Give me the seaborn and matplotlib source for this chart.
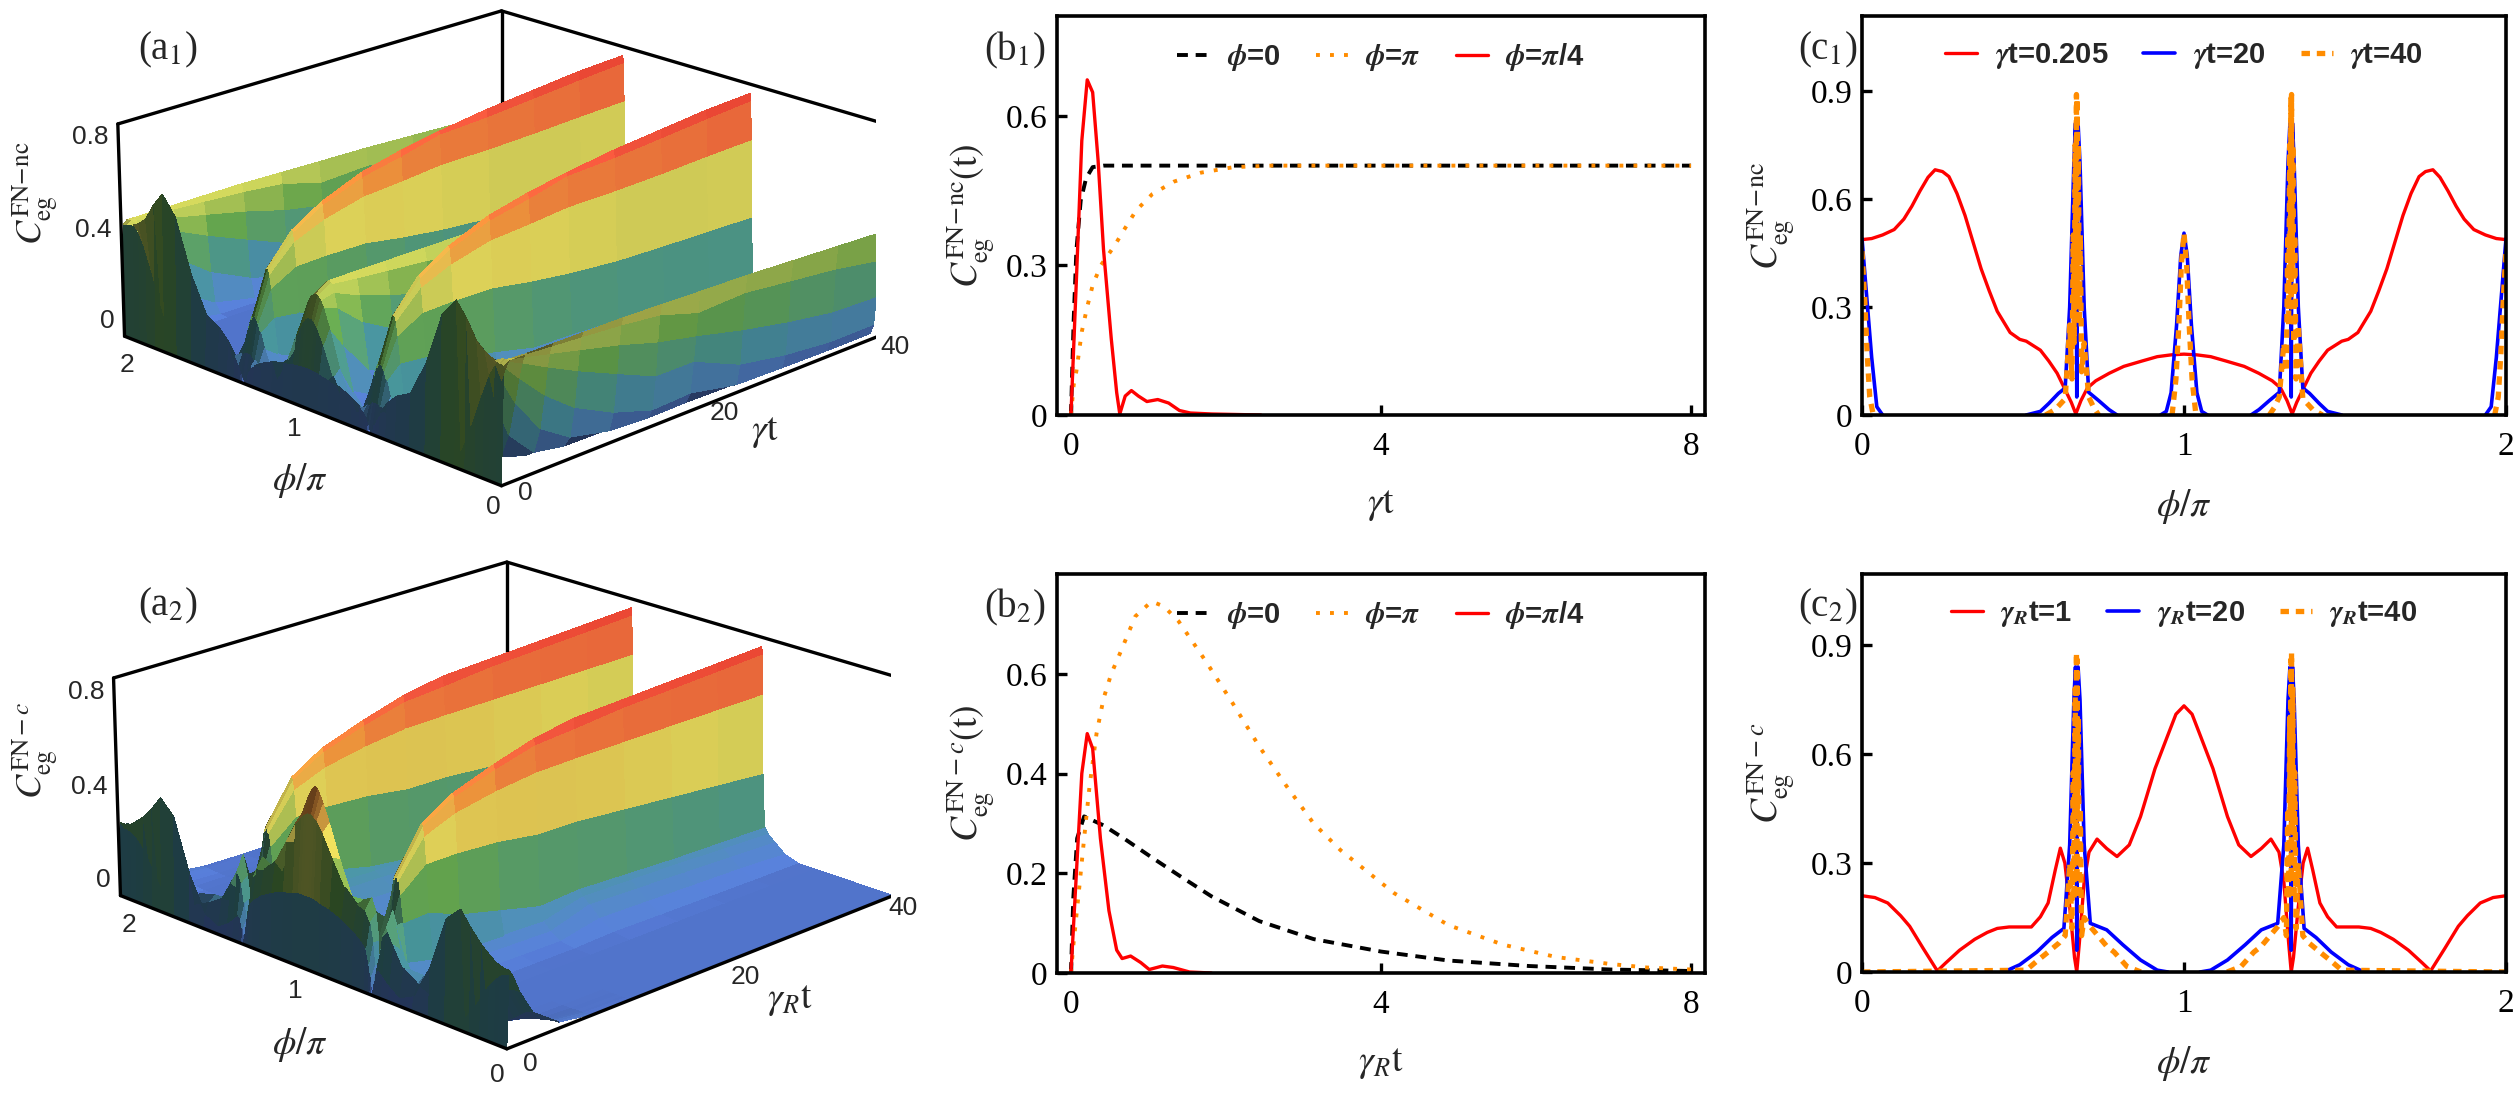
import numpy as np
import matplotlib
matplotlib.use("Agg")
import matplotlib.pyplot as plt
import seaborn as sns
from matplotlib.colors import LinearSegmentedColormap, Normalize
from mpl_toolkits.mplot3d import proj3d

# ---------- data ----------
# (b1) time traces vs gamma*t
B1_BLACK_T = [0, 0.035, 0.07, 0.126, 0.196, 0.28, 0.42, 8.0]
B1_BLACK_Y = [0, 0.19, 0.33, 0.43, 0.475, 0.497, 0.50, 0.50]
B1_ORANGE_T = [0, 0.035, 0.07, 0.14, 0.21, 0.28, 0.385, 0.56, 0.70, 0.84, 1.05, 1.33, 1.68, 2.1, 2.59, 8.0]
B1_ORANGE_Y = [0, 0.06, 0.088, 0.167, 0.217, 0.26, 0.30, 0.339, 0.375, 0.41, 0.443, 0.468, 0.486, 0.497, 0.50, 0.50]
B1_RED_T = [0, 0.07, 0.14, 0.21, 0.28, 0.35, 0.42, 0.52, 0.59, 0.63, 0.70, 0.78, 0.87, 0.98, 1.12, 1.26, 1.40, 1.54, 1.82, 2.45]
B1_RED_Y = [0, 0.27, 0.55, 0.672, 0.647, 0.511, 0.332, 0.153, 0.045, 0.002, 0.038, 0.049, 0.038, 0.027, 0.031, 0.024, 0.009, 0.004, 0.002, 0.0]

# (b2) time traces vs gamma_R*t
B2_BLACK_T = [0, 0.03, 0.08, 0.17, 0.42, 0.70, 1.04, 1.39, 1.81, 2.43, 3.13, 4.0, 4.87, 5.91, 6.96, 8.0]
B2_BLACK_Y = [0, 0.15, 0.27, 0.314, 0.296, 0.268, 0.232, 0.196, 0.154, 0.104, 0.068, 0.043, 0.025, 0.014, 0.007, 0.004]
B2_ORANGE_T = [0, 0.03, 0.1, 0.17, 0.24, 0.33, 0.42, 0.52, 0.63, 0.83, 1.04, 1.2, 1.39, 1.74, 2.09, 2.43, 2.78,
               3.13, 3.48, 4.17, 4.87, 5.57, 6.26, 6.96, 7.43, 8.0]
B2_ORANGE_Y = [0, 0.054, 0.16, 0.27, 0.375, 0.48, 0.55, 0.60, 0.64, 0.715, 0.745, 0.735, 0.705, 0.625, 0.54, 0.454,
               0.375, 0.30, 0.246, 0.16, 0.096, 0.057, 0.032, 0.018, 0.011, 0.007]
B2_RED_T = [0, 0.07, 0.14, 0.21, 0.28, 0.38, 0.49, 0.59, 0.66, 0.77, 0.9, 1.01, 1.18, 1.32, 1.53, 1.81, 2.5]
B2_RED_Y = [0, 0.2, 0.40, 0.48, 0.45, 0.27, 0.125, 0.046, 0.029, 0.034, 0.021, 0.007, 0.014, 0.011, 0.002, 0, 0]

# (c1) phi/pi profiles on [0, 1]; the curves are mirror symmetric about phi/pi = 1
C1_RED_PHI = [0.00, 0.03, 0.064, 0.10, 0.13, 0.155, 0.18, 0.205, 0.227, 0.25, 0.27, 0.295, 0.32, 0.345, 0.37, 0.395,
              0.42, 0.46, 0.49, 0.51, 0.554, 0.58, 0.606, 0.631, 0.65, 0.664, 0.68, 0.70, 0.726, 0.768, 0.813, 0.87,
              0.917, 0.96, 1.00]
C1_RED_VAL = [0.487, 0.49, 0.50, 0.515, 0.544, 0.58, 0.622, 0.66, 0.681, 0.676, 0.662, 0.615, 0.554, 0.48, 0.406, 0.345,
              0.288, 0.229, 0.21, 0.205, 0.18, 0.15, 0.116, 0.07, 0.035, 0.003, 0.04, 0.075, 0.095, 0.116, 0.135, 0.15,
              0.162, 0.167, 0.169]
C1_BLUE_PHI = [0.00, 0.012, 0.03, 0.046, 0.064, 0.51, 0.554, 0.58, 0.61, 0.631, 0.645, 0.658, 0.663, 0.666, 0.667,
               0.668, 0.671, 0.677, 0.69, 0.704, 0.735, 0.767, 0.792, 0.927, 0.945, 0.96, 0.977, 0.99, 1.00]
C1_BLUE_VAL = [0.49, 0.357, 0.16, 0.023, 0.0, 0.0, 0.01, 0.032, 0.06, 0.075, 0.30, 0.70, 0.81, 0.30, 0.05,
               0.30, 0.81, 0.70, 0.30, 0.063, 0.04, 0.015, 0.0, 0.0, 0.01, 0.062, 0.25, 0.443, 0.505]
C1_ORANGE_PHI = [0.00, 0.008, 0.016, 0.024, 0.035, 0.57, 0.60, 0.631, 0.645, 0.652, 0.656, 0.659, 0.662, 0.664,
                 0.666, 0.667, 0.668, 0.670, 0.672, 0.675, 0.678, 0.682, 0.69, 0.704, 0.72, 0.735, 0.963, 0.975,
                 0.984, 0.992, 1.00]
C1_ORANGE_VAL = [0.455, 0.33, 0.17, 0.05, 0.0, 0.0, 0.015, 0.045, 0.25, 0.10, 0.50, 0.20, 0.75, 0.40,
                 0.89, 0.30, 0.88, 0.45, 0.75, 0.25, 0.50, 0.12, 0.20, 0.05, 0.02, 0.0, 0.0, 0.10,
                 0.25, 0.42, 0.505]

# (c2) phi/pi profiles on [0, 1]
C2_RED_PHI = [0.00, 0.04, 0.08, 0.12, 0.148, 0.19, 0.234, 0.26, 0.303, 0.35, 0.389, 0.42, 0.457, 0.526, 0.554,
              0.578, 0.60, 0.616, 0.63, 0.645, 0.66, 0.667, 0.675, 0.69, 0.705, 0.73, 0.76, 0.792, 0.83, 0.865,
              0.91, 0.948, 0.975, 1.00]
C2_RED_VAL = [0.21, 0.205, 0.19, 0.155, 0.126, 0.065, 0.003, 0.025, 0.06, 0.09, 0.109, 0.12, 0.124, 0.124, 0.152,
              0.19, 0.28, 0.341, 0.30, 0.18, 0.04, 0.0, 0.08, 0.25, 0.33, 0.366, 0.34, 0.318, 0.35, 0.428,
              0.56, 0.648, 0.71, 0.733]
C2_BLUE_PHI = [0.00, 0.44, 0.49, 0.543, 0.59, 0.627, 0.645, 0.658, 0.663, 0.666, 0.667, 0.668, 0.671, 0.677,
               0.69, 0.709, 0.76, 0.81, 0.865, 0.917, 0.95, 1.00]
C2_BLUE_VAL = [0.0, 0.0, 0.02, 0.055, 0.095, 0.12, 0.35, 0.75, 0.84, 0.35, 0.06, 0.35, 0.84, 0.75,
               0.35, 0.134, 0.116, 0.075, 0.033, 0.005, 0.0, 0.0]
C2_ORANGE_PHI = [0.00, 0.51, 0.543, 0.578, 0.612, 0.631, 0.645, 0.652, 0.656, 0.659, 0.662, 0.664, 0.666, 0.667,
                 0.668, 0.670, 0.672, 0.675, 0.678, 0.682, 0.69, 0.709, 0.761, 0.783, 0.823, 0.866, 1.00]
C2_ORANGE_VAL = [0.0, 0.005, 0.03, 0.055, 0.08, 0.10, 0.30, 0.12, 0.55, 0.20, 0.78, 0.40, 0.88, 0.25,
                 0.86, 0.45, 0.70, 0.20, 0.45, 0.10, 0.15, 0.125, 0.07, 0.055, 0.015, 0.0, 0.0]

# (a1), (a2) surfaces: one row per time, one column per phi/pi node on [0, 1] (mirrored to [0, 2])
SURF_T = [0, 0.2, 0.6, 1.2, 2.5, 5, 8, 12, 16, 20, 25, 30, 35, 40]
SURF_PHI_HALF = [0.000, 0.008, 0.016, 0.025, 0.04, 0.06, 0.09, 0.13, 0.18, 0.23, 0.30, 0.38, 0.46, 0.53, 0.58,
                 0.615, 0.635, 0.648, 0.657, 0.663, 0.667, 0.671, 0.677, 0.686, 0.70, 0.72, 0.76, 0.82, 0.88,
                 0.93, 0.96, 0.975, 0.988, 1.000]
A1_Z_HALF = [
    [0.000, 0.000, 0.000, 0.000, 0.000, 0.000, 0.000, 0.000, 0.000, 0.000, 0.000, 0.000, 0.000, 0.000, 0.000, 0.000, 0.000, 0.000, 0.000, 0.000, 0.000, 0.000, 0.000, 0.000, 0.000, 0.000, 0.000, 0.000, 0.000, 0.000, 0.000, 0.000, 0.000, 0.000],
    [0.487, 0.490, 0.490, 0.492, 0.495, 0.500, 0.515, 0.544, 0.622, 0.680, 0.600, 0.380, 0.229, 0.195, 0.150, 0.100, 0.065, 0.040, 0.020, 0.005, 0.000, 0.015, 0.035, 0.055, 0.075, 0.090, 0.112, 0.137, 0.152, 0.163, 0.166, 0.168, 0.169, 0.169],
    [0.500, 0.500, 0.500, 0.500, 0.490, 0.470, 0.420, 0.320, 0.180, 0.060, 0.010, 0.000, 0.010, 0.040, 0.070, 0.100, 0.110, 0.120, 0.120, 0.120, 0.120, 0.120, 0.120, 0.110, 0.100, 0.080, 0.050, 0.060, 0.160, 0.280, 0.340, 0.360, 0.370, 0.370],
    [0.500, 0.498, 0.492, 0.479, 0.448, 0.392, 0.289, 0.160, 0.070, 0.034, 0.020, 0.005, 0.000, 0.004, 0.047, 0.145, 0.210, 0.248, 0.264, 0.270, 0.270, 0.270, 0.264, 0.248, 0.210, 0.148, 0.049, 0.062, 0.189, 0.340, 0.417, 0.443, 0.456, 0.460],
    [0.500, 0.495, 0.480, 0.453, 0.387, 0.282, 0.138, 0.034, 0.003, 0.000, 0.000, 0.000, 0.000, 0.000, 0.009, 0.110, 0.264, 0.373, 0.428, 0.446, 0.450, 0.446, 0.428, 0.373, 0.255, 0.105, 0.005, 0.006, 0.068, 0.253, 0.400, 0.458, 0.490, 0.500],
    [0.500, 0.488, 0.455, 0.398, 0.279, 0.134, 0.026, 0.000, 0.000, 0.000, 0.000, 0.000, 0.000, 0.005, 0.030, 0.064, 0.252, 0.433, 0.535, 0.572, 0.580, 0.572, 0.535, 0.433, 0.239, 0.060, 0.030, 0.005, 0.006, 0.108, 0.303, 0.410, 0.478, 0.500],
    [0.500, 0.480, 0.425, 0.336, 0.180, 0.050, 0.003, 0.000, 0.000, 0.000, 0.000, 0.000, 0.000, 0.005, 0.025, 0.070, 0.205, 0.437, 0.589, 0.648, 0.660, 0.648, 0.589, 0.437, 0.190, 0.068, 0.025, 0.003, 0.000, 0.046, 0.229, 0.368, 0.466, 0.500],
    [0.500, 0.468, 0.384, 0.262, 0.096, 0.012, 0.000, 0.000, 0.000, 0.000, 0.000, 0.000, 0.000, 0.005, 0.025, 0.070, 0.166, 0.433, 0.632, 0.713, 0.730, 0.713, 0.632, 0.433, 0.151, 0.065, 0.025, 0.002, 0.000, 0.013, 0.153, 0.315, 0.450, 0.500],
    [0.495, 0.450, 0.335, 0.190, 0.042, 0.002, 0.000, 0.000, 0.000, 0.000, 0.000, 0.000, 0.000, 0.006, 0.030, 0.060, 0.125, 0.403, 0.644, 0.748, 0.770, 0.748, 0.644, 0.403, 0.110, 0.055, 0.025, 0.003, 0.000, 0.003, 0.096, 0.262, 0.431, 0.500],
    [0.490, 0.400, 0.300, 0.190, 0.050, 0.004, 0.000, 0.000, 0.000, 0.000, 0.000, 0.000, 0.000, 0.004, 0.032, 0.062, 0.120, 0.380, 0.660, 0.790, 0.800, 0.790, 0.660, 0.380, 0.100, 0.050, 0.020, 0.000, 0.000, 0.000, 0.062, 0.220, 0.420, 0.505],
    [0.485, 0.410, 0.250, 0.100, 0.008, 0.000, 0.000, 0.000, 0.000, 0.000, 0.000, 0.000, 0.000, 0.003, 0.025, 0.050, 0.110, 0.360, 0.660, 0.800, 0.830, 0.800, 0.660, 0.360, 0.095, 0.045, 0.015, 0.000, 0.000, 0.000, 0.037, 0.180, 0.395, 0.505],
    [0.475, 0.387, 0.209, 0.064, 0.003, 0.000, 0.000, 0.000, 0.000, 0.000, 0.000, 0.000, 0.000, 0.002, 0.020, 0.045, 0.100, 0.352, 0.665, 0.817, 0.850, 0.817, 0.665, 0.352, 0.090, 0.040, 0.012, 0.000, 0.000, 0.000, 0.022, 0.148, 0.377, 0.505],
    [0.465, 0.365, 0.177, 0.044, 0.000, 0.000, 0.000, 0.000, 0.000, 0.000, 0.000, 0.000, 0.000, 0.002, 0.015, 0.040, 0.100, 0.346, 0.674, 0.835, 0.870, 0.835, 0.674, 0.346, 0.085, 0.035, 0.010, 0.000, 0.000, 0.000, 0.013, 0.120, 0.360, 0.505],
    [0.455, 0.330, 0.170, 0.045, 0.000, 0.000, 0.000, 0.000, 0.000, 0.000, 0.000, 0.000, 0.000, 0.000, 0.008, 0.030, 0.090, 0.340, 0.680, 0.850, 0.880, 0.850, 0.680, 0.340, 0.080, 0.025, 0.000, 0.000, 0.000, 0.000, 0.000, 0.100, 0.340, 0.505],
]
A2_Z_HALF = [
    [0.000, 0.000, 0.000, 0.000, 0.000, 0.000, 0.000, 0.000, 0.000, 0.000, 0.000, 0.000, 0.000, 0.000, 0.000, 0.000, 0.000, 0.000, 0.000, 0.000, 0.000, 0.000, 0.000, 0.000, 0.000, 0.000, 0.000, 0.000, 0.000, 0.000, 0.000, 0.000, 0.000, 0.000],
    [0.310, 0.310, 0.310, 0.310, 0.315, 0.320, 0.340, 0.370, 0.420, 0.480, 0.420, 0.200, 0.060, 0.030, 0.060, 0.090, 0.110, 0.100, 0.060, 0.020, 0.000, 0.030, 0.070, 0.120, 0.180, 0.200, 0.230, 0.260, 0.280, 0.290, 0.300, 0.300, 0.300, 0.300],
    [0.280, 0.280, 0.280, 0.278, 0.275, 0.265, 0.240, 0.190, 0.110, 0.045, 0.040, 0.070, 0.100, 0.140, 0.220, 0.280, 0.240, 0.160, 0.090, 0.030, 0.000, 0.040, 0.110, 0.200, 0.280, 0.320, 0.330, 0.380, 0.480, 0.570, 0.610, 0.620, 0.630, 0.630],
    [0.210, 0.210, 0.209, 0.208, 0.205, 0.198, 0.180, 0.145, 0.080, 0.008, 0.058, 0.105, 0.124, 0.126, 0.190, 0.340, 0.260, 0.170, 0.090, 0.020, 0.000, 0.040, 0.100, 0.200, 0.310, 0.360, 0.340, 0.335, 0.470, 0.600, 0.670, 0.700, 0.720, 0.730],
    [0.105, 0.105, 0.103, 0.100, 0.093, 0.079, 0.056, 0.028, 0.007, 0.000, 0.000, 0.000, 0.003, 0.022, 0.055, 0.110, 0.264, 0.373, 0.428, 0.446, 0.450, 0.446, 0.428, 0.373, 0.255, 0.150, 0.138, 0.138, 0.205, 0.334, 0.410, 0.437, 0.449, 0.451],
    [0.025, 0.025, 0.024, 0.023, 0.020, 0.015, 0.008, 0.002, 0.000, 0.000, 0.000, 0.000, 0.002, 0.017, 0.049, 0.084, 0.270, 0.463, 0.572, 0.612, 0.620, 0.612, 0.572, 0.463, 0.256, 0.150, 0.136, 0.096, 0.065, 0.073, 0.088, 0.096, 0.098, 0.098],
    [0.005, 0.005, 0.005, 0.005, 0.004, 0.003, 0.001, 0.000, 0.000, 0.000, 0.000, 0.000, 0.002, 0.015, 0.045, 0.078, 0.217, 0.463, 0.624, 0.687, 0.700, 0.687, 0.624, 0.463, 0.201, 0.145, 0.130, 0.089, 0.047, 0.022, 0.018, 0.016, 0.014, 0.013],
    [0.000, 0.000, 0.000, 0.000, 0.000, 0.000, 0.000, 0.000, 0.000, 0.000, 0.000, 0.000, 0.001, 0.012, 0.040, 0.072, 0.173, 0.451, 0.657, 0.742, 0.760, 0.742, 0.657, 0.451, 0.157, 0.140, 0.125, 0.083, 0.040, 0.018, 0.010, 0.008, 0.005, 0.004],
    [0.000, 0.000, 0.000, 0.000, 0.000, 0.000, 0.000, 0.000, 0.000, 0.000, 0.000, 0.000, 0.001, 0.010, 0.036, 0.067, 0.129, 0.424, 0.677, 0.787, 0.810, 0.787, 0.677, 0.424, 0.135, 0.135, 0.119, 0.076, 0.035, 0.014, 0.007, 0.005, 0.003, 0.002],
    [0.000, 0.000, 0.000, 0.000, 0.000, 0.000, 0.000, 0.000, 0.000, 0.000, 0.000, 0.000, 0.008, 0.045, 0.088, 0.110, 0.140, 0.420, 0.680, 0.800, 0.840, 0.800, 0.680, 0.420, 0.140, 0.130, 0.116, 0.068, 0.025, 0.002, 0.000, 0.000, 0.000, 0.000],
    [0.000, 0.000, 0.000, 0.000, 0.000, 0.000, 0.000, 0.000, 0.000, 0.000, 0.000, 0.000, 0.005, 0.040, 0.080, 0.105, 0.130, 0.400, 0.680, 0.820, 0.850, 0.820, 0.680, 0.400, 0.135, 0.125, 0.105, 0.055, 0.015, 0.000, 0.000, 0.000, 0.000, 0.000],
    [0.000, 0.000, 0.000, 0.000, 0.000, 0.000, 0.000, 0.000, 0.000, 0.000, 0.000, 0.000, 0.003, 0.035, 0.072, 0.100, 0.120, 0.380, 0.680, 0.830, 0.860, 0.830, 0.680, 0.380, 0.130, 0.120, 0.095, 0.042, 0.008, 0.000, 0.000, 0.000, 0.000, 0.000],
    [0.000, 0.000, 0.000, 0.000, 0.000, 0.000, 0.000, 0.000, 0.000, 0.000, 0.000, 0.000, 0.001, 0.030, 0.065, 0.090, 0.115, 0.360, 0.680, 0.840, 0.870, 0.840, 0.680, 0.360, 0.128, 0.115, 0.085, 0.030, 0.003, 0.000, 0.000, 0.000, 0.000, 0.000],
    [0.000, 0.000, 0.000, 0.000, 0.000, 0.000, 0.000, 0.000, 0.000, 0.000, 0.000, 0.000, 0.000, 0.020, 0.057, 0.083, 0.110, 0.340, 0.680, 0.850, 0.880, 0.850, 0.680, 0.340, 0.125, 0.110, 0.075, 0.017, 0.000, 0.000, 0.000, 0.000, 0.000, 0.000],
]

# ---------- style / layout ----------
W_PX, H_PX = 2516, 1111
RED, BLUE, ORANGE = "#ff0000", "#0000ff", "#ff8c00"
TICK_SIZE = 24
TICK3D_SIZE = 19
LABEL_SIZE = 27
LEG_PROP = {"family": "Liberation Sans", "weight": "bold", "size": 21}

sns.set_theme(style="white")
plt.rcParams.update({
    "font.family": ["Liberation Serif", "DejaVu Serif"],
    "mathtext.fontset": "stix",
    "axes.linewidth": 2.6,
    "axes.edgecolor": "black",
})

SURF_CMAP = LinearSegmentedColormap.from_list("surf", [
    (0.00, "#5a80e0"), (0.20, "#4a9aa0"), (0.40, "#6cb050"), (0.58, "#f0e460"),
    (0.75, "#ffa040"), (0.90, "#ff5a40"), (1.00, "#f04030")])
Z_TOP = 0.92
BOX_ASPECT = (1, 1, 0.42)
ELEV, AZIM, FOCAL = 20, -135, 1.05
LIGHT = np.array([0.35, -0.65, 0.67]) / np.linalg.norm([0.35, -0.65, 0.67])

# where the box corners sit in the reference (pixels, y down): used to place the 3D axes
BOX_CORNERS = [(0, 2, 0), (0, 0, 0), (40, 0, 0), (0, 2, Z_TOP), (40, 2, Z_TOP), (40, 0, Z_TOP)]
A1_CORNER_PX = [(122, 330), (502, 486), (881, 330), (115, 125), (502, 21), (887, 125)]
A2_CORNER_PX = [(117, 889), (508, 1048), (895, 889), (110, 679), (508, 574), (903, 679)]


def fx(px):
    return px / W_PX


def fy(py):
    return 1 - py / H_PX


def mirror(phi_half, vals_half):
    phi = np.asarray(phi_half, float)
    v = np.asarray(vals_half, float)
    return np.concatenate([phi, 2 - phi[-2::-1]]), np.concatenate([v, v[-2::-1]])


def style_2d(ax, xlim, ylim, xticks, yticks, xlabel, ylabel, ylabelpad):
    ax.set_xlim(*xlim)
    ax.set_ylim(*ylim)
    ax.set_xticks(xticks)
    ax.set_yticks(yticks)
    ax.set_xticklabels([f"{v:g}" for v in xticks])
    ax.set_yticklabels([f"{v:g}" for v in yticks])
    ax.tick_params(direction="in", length=7, width=2.4, labelsize=TICK_SIZE, pad=7,
                   bottom=True, left=True, top=False, right=False, colors="black")
    ax.tick_params(axis="x", pad=12)
    ax.set_xlabel(xlabel, fontsize=LABEL_SIZE, labelpad=18)
    ax.set_ylabel(ylabel, fontsize=LABEL_SIZE, labelpad=ylabelpad)
    ax.grid(False)
    for s in ax.spines.values():
        s.set_linewidth(2.6)
        s.set_color("black")
        s.set_zorder(5)


def line(ax, x, y, color, lw, ls, label):
    x = np.asarray(x, float)
    y = np.asarray(y, float)
    # do not draw the stretches that lie on the axis line
    seg = np.cumsum(np.r_[False, (y[1:] == 0) & (y[:-1] == 0)])
    sns.lineplot(x=x, y=y, units=seg, estimator=None, sort=False, ax=ax, color=color,
                 linewidth=lw, linestyle=ls, label=label)


def legend(ax):
    handles, labels = ax.get_legend_handles_labels()
    uniq = dict(zip(labels, handles))
    ax.legend(list(uniq.values()), list(uniq.keys()), loc="upper center", bbox_to_anchor=(0.5, 1.0),
              ncol=3, frameon=False, prop=LEG_PROP, handlelength=1.1, handletextpad=0.6,
              columnspacing=1.2, borderaxespad=0.45)


fig = plt.figure(figsize=(W_PX / 100, H_PX / 100), dpi=100)

# ---------- (b1) ----------
ax = fig.add_axes([fx(1057), fy(415), fx(1705 - 1057), (415 - 16) / H_PX])
line(ax, B1_BLACK_T, B1_BLACK_Y, "black", 2.8, (0, (2.8, 2.0)), r"$\boldsymbol{\phi}$=0")
line(ax, B1_ORANGE_T, B1_ORANGE_Y, ORANGE, 2.8, (0, (1.0, 2.6)), r"$\boldsymbol{\phi}$=$\boldsymbol{\pi}$")
line(ax, B1_RED_T, B1_RED_Y, RED, 2.4, "-", r"$\boldsymbol{\phi}$=$\boldsymbol{\pi}$/4")
style_2d(ax, (-0.18, 8.18), (0, 0.80), [0, 4, 8], [0, 0.3, 0.6], r"$\gamma\mathrm{t}$",
         r"$C_{\rm eg}^{\rm FN\!-\!nc}\mathrm{(t)}$", 6)
legend(ax)

# ---------- (b2) ----------
ax = fig.add_axes([fx(1057), fy(973), fx(1705 - 1057), (973 - 574) / H_PX])
line(ax, B2_BLACK_T, B2_BLACK_Y, "black", 2.8, (0, (2.8, 2.0)), r"$\boldsymbol{\phi}$=0")
line(ax, B2_ORANGE_T, B2_ORANGE_Y, ORANGE, 2.8, (0, (1.0, 2.6)), r"$\boldsymbol{\phi}$=$\boldsymbol{\pi}$")
line(ax, B2_RED_T, B2_RED_Y, RED, 2.4, "-", r"$\boldsymbol{\phi}$=$\boldsymbol{\pi}$/4")
style_2d(ax, (-0.18, 8.18), (0, 0.80), [0, 4, 8], [0, 0.2, 0.4, 0.6], r"$\gamma_R\mathrm{t}$",
         r"$C_{\rm eg}^{{\rm FN}-c}\mathrm{(t)}$", 6)
legend(ax)

# ---------- (c1) ----------
ax = fig.add_axes([fx(1862), fy(415), fx(2506 - 1862), (415 - 16) / H_PX])
x, y = mirror(C1_RED_PHI, C1_RED_VAL)
line(ax, x, y, RED, 2.4, "-", r"$\boldsymbol{\gamma}$t=0.205")
x, y = mirror(C1_BLUE_PHI, C1_BLUE_VAL)
line(ax, x, y, BLUE, 2.6, "-", r"$\boldsymbol{\gamma}$t=20")
x, y = mirror(C1_ORANGE_PHI, C1_ORANGE_VAL)
line(ax, x, y, ORANGE, 3.8, (0, (1.6, 1.3)), r"$\boldsymbol{\gamma}$t=40")
style_2d(ax, (0, 2), (0, 1.108), [0, 1, 2], [0, 0.3, 0.6, 0.9], r"$\phi/\pi$",
         r"$C_{\rm eg}^{\rm FN\!-\!nc}$", 10)
legend(ax)

# ---------- (c2) ----------
ax = fig.add_axes([fx(1862), fy(972), fx(2506 - 1862), (972 - 574) / H_PX])
x, y = mirror(C2_RED_PHI, C2_RED_VAL)
line(ax, x, y, RED, 2.4, "-", r"$\boldsymbol{\gamma}_{\boldsymbol{R}}$t=1")
x, y = mirror(C2_BLUE_PHI, C2_BLUE_VAL)
line(ax, x, y, BLUE, 2.6, "-", r"$\boldsymbol{\gamma}_{\boldsymbol{R}}$t=20")
x, y = mirror(C2_ORANGE_PHI, C2_ORANGE_VAL)
line(ax, x, y, ORANGE, 3.8, (0, (1.6, 1.3)), r"$\boldsymbol{\gamma}_{\boldsymbol{R}}$t=40")
style_2d(ax, (0, 2), (0, 1.096), [0, 1, 2], [0, 0.3, 0.6, 0.9], r"$\phi/\pi$",
         r"$C_{\rm eg}^{{\rm FN}-c}$", 10)
legend(ax)


# ---------- 3D surfaces ----------
def shaded_colors(T, P, z):
    """Height colours with two-sided diffuse lighting (normals taken in box units)."""
    sx, sy, sz = BOX_ASPECT[0] / SURF_T[-1], BOX_ASPECT[1] / 2.0, BOX_ASPECT[2] / Z_TOP
    X, Y, Z = T * sx, P * sy, z * sz
    d1 = np.stack([X[1:, 1:] - X[:-1, :-1], Y[1:, 1:] - Y[:-1, :-1], Z[1:, 1:] - Z[:-1, :-1]], -1)
    d2 = np.stack([X[:-1, 1:] - X[1:, :-1], Y[:-1, 1:] - Y[1:, :-1], Z[:-1, 1:] - Z[1:, :-1]], -1)
    n = np.cross(d1, d2)
    n /= np.linalg.norm(n, axis=-1, keepdims=True)
    e, a = np.radians(ELEV), np.radians(AZIM)
    view = np.array([np.cos(e) * np.cos(a), np.cos(e) * np.sin(a), np.sin(e)])
    n *= np.where(n @ view < 0, -1.0, 1.0)[..., None]
    light = np.clip(0.40 + 0.75 * np.clip(n @ LIGHT, 0, 1), 0, 1)
    zf = 0.25 * (z[:-1, :-1] + z[1:, :-1] + z[:-1, 1:] + z[1:, 1:])
    fc = np.ones(z.shape + (4,))
    fc[:-1, :-1, :3] = SURF_CMAP(Normalize(0, 0.9)(zf))[..., :3] * light[..., None]
    return fc


def fit_to_corners(ax, corner_px):
    """Move/scale the (square) 3D axes so the box corners land where the reference has them."""
    fig.canvas.draw()
    M = ax.get_proj()
    pts = np.array([ax.transData.transform(proj3d.proj_transform(x, y, z, M)[:2])
                    for x, y, z in BOX_CORNERS])
    bb = ax.get_position()
    cx, cy, side = (bb.x0 + bb.x1) / 2 * W_PX, (bb.y0 + bb.y1) / 2 * H_PX, bb.width * W_PX
    q = (pts - [cx, cy]) / side
    tgt = np.array([(px, H_PX - py) for px, py in corner_px], float)
    A = np.zeros((2 * len(q), 3))
    A[0::2, 0] = 1
    A[1::2, 1] = 1
    A[0::2, 2] = q[:, 0]
    A[1::2, 2] = q[:, 1]
    (ncx, ncy, L), *_ = np.linalg.lstsq(A, tgt.ravel(), rcond=None)
    ax.set_position([(ncx - L / 2) / W_PX, (ncy - L / 2) / H_PX, L / W_PX, L / H_PX])


def surface_panel(center_px, z_half, corner_px, tick_offsets):
    side = 900
    cx, cy = center_px
    ax = fig.add_axes([fx(cx - side / 2), fy(cy + side / 2), side / W_PX, side / H_PX],
                      projection="3d", computed_zorder=False)
    ax.patch.set_visible(False)
    phi, _ = mirror(SURF_PHI_HALF, SURF_PHI_HALF)
    z = np.asarray(z_half, float)
    z = np.concatenate([z, z[:, -2::-1]], axis=1)
    T, P = np.meshgrid(SURF_T, phi, indexing="ij")
    ax.plot_surface(T, P, z, facecolors=shaded_colors(T, P, z), shade=False, linewidth=0,
                    antialiased=False, rcount=z.shape[0], ccount=z.shape[1], zorder=2)
    t_max, p_max = SURF_T[-1], 2.0
    kw = dict(color="black", lw=2.4)
    # back edges (behind the surface)
    ax.plot([t_max, t_max], [p_max, p_max], [0, Z_TOP], zorder=1, **kw)
    ax.plot([0, t_max], [p_max, p_max], [Z_TOP, Z_TOP], zorder=1, **kw)
    ax.plot([t_max, t_max], [p_max, 0], [Z_TOP, Z_TOP], zorder=1, **kw)
    # front edges
    ax.plot([0, 0], [p_max, p_max], [0, Z_TOP], zorder=3, **kw)
    ax.plot([t_max, t_max], [0, 0], [0, Z_TOP], zorder=3, **kw)
    ax.plot([0, 0], [0, p_max], [0, 0], zorder=3, **kw)
    ax.plot([0, t_max], [0, 0], [0, 0], zorder=3, **kw)
    ax.set_proj_type("persp", focal_length=FOCAL)
    ax.view_init(elev=ELEV, azim=AZIM)
    ax.set_box_aspect(BOX_ASPECT, zoom=1.0)
    ax.set_xlim(0, t_max)
    ax.set_ylim(0, p_max)
    ax.set_zlim(0, Z_TOP)
    ax.set_axis_off()
    fit_to_corners(ax, corner_px)
    M = ax.get_proj()

    def put(s, x3, y3, z3, off, ha="center"):
        x2, y2, _ = proj3d.proj_transform(x3, y3, z3, M)
        ax.annotate(s, xy=(x2, y2), xytext=off, textcoords="offset points", ha=ha, va="center",
                    fontsize=TICK3D_SIZE, family="Liberation Sans", annotation_clip=False)

    for p, off in zip([2, 1, 0], tick_offsets["phi"]):
        put(f"{p}", 0, p, 0, off)
    for t, off in zip([0, 20, 40], tick_offsets["t"]):
        put(f"{t}", t, 0, 0, off)
    for zt in [0, 0.4, 0.8]:
        put(f"{zt:g}", 0, p_max, zt, (-7, 11), ha="right")
    return ax


surface_panel((502, 253), A1_Z_HALF, A1_CORNER_PX,
              {"phi": [(2, -21), (-8, -15), (-6, -15)], "t": [(17, -5), (19, -4), (12, -8)]})
surface_panel((506, 811), A2_Z_HALF, A2_CORNER_PX,
              {"phi": [(6, -21), (-7, -16), (-7, -19)], "t": [(17, -11), (27, -6), (7, -9)]})

# 3D axis titles and panel labels
fig.text(fx(36), fy(193), r"$C_{\rm eg}^{\rm FN\!-\!nc}$", rotation=90, fontsize=26, ha="center", va="center")
fig.text(fx(36), fy(750), r"$C_{\rm eg}^{{\rm FN}-c}$", rotation=90, fontsize=26, ha="center", va="center")
fig.text(fx(300), fy(480), r"$\phi/\pi$", fontsize=LABEL_SIZE, ha="center", va="center")
fig.text(fx(300), fy(1045), r"$\phi/\pi$", fontsize=LABEL_SIZE, ha="center", va="center")
fig.text(fx(765), fy(432), r"$\gamma\mathrm{t}$", fontsize=LABEL_SIZE, ha="center", va="center")
fig.text(fx(790), fy(1000), r"$\gamma_R\mathrm{t}$", fontsize=LABEL_SIZE, ha="center", va="center")

for s, px, py in [("a", 168, 50), ("a", 168, 606), ("b", 1015, 50), ("b", 1015, 607),
                  ("c", 1828, 50), ("c", 1828, 607)]:
    sub = "1" if py < 500 else "2"
    fig.text(fx(px), fy(py), f"({s}$_{{\\rm {sub}}}$)", fontsize=28, ha="center", va="center")

fig.savefig("out.png", dpi=100)
